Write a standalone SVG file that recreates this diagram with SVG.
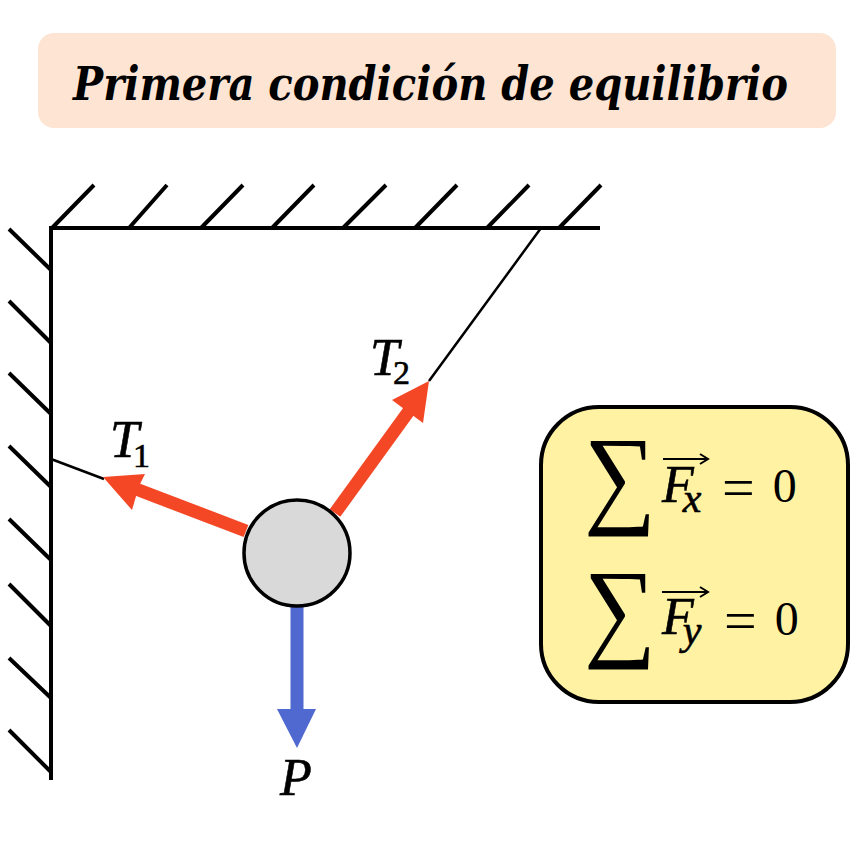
<svg xmlns="http://www.w3.org/2000/svg" width="855" height="857" viewBox="0 0 855 857">
<style>
.h{stroke:#000;stroke-width:4;fill:none}
.t{font-family:"Liberation Serif",serif;font-style:italic;fill:#000;stroke:#000;stroke-width:.6px;font-size:52px}
.s{font-size:34px;font-style:normal}
.u{font-size:42px}
.m{font-family:"Liberation Serif",serif;fill:#000}
.v{stroke:#000;stroke-width:2;fill:none}
</style>
<rect width="855" height="857" fill="#fff"/>
<g id="title"><rect x="38" y="33" width="798" height="95" rx="16" fill="#fde4d3"/>
<text x="73" y="100" font-family="DejaVu Serif Condensed,DejaVu Serif,serif" font-style="italic" font-weight="bold" font-size="46" textLength="715" lengthAdjust="spacingAndGlyphs" fill="#000">Primera condición de equilibrio</text></g>
<g id="walls" class="h">
<path d="M51 780V228H600"/>
<path d="M52 228L94 185M129 228L167 185M201 228L243 185M272 228L314 185M343 228L386 185M415 228L457 185M487 228L529 185M559 228L601 185"/>
<path d="M9 229L51 270M9 301L51 343M9 373L51 414M9 446L51 487M9 519L51 560M9 584L51 626M9 658L51 698M9 730L51 772"/>
</g>
<g id="connectors">
<path d="M51 459L104 479M541 228L429 381" stroke="#000" stroke-width="2.5" fill="none"/>
<path d="M103 477L145 474L139 486L132 510Z" fill="#f44725"/>
<path d="M246 531L136 489" stroke="#f44725" stroke-width="13" fill="none"/>
<path d="M335 513L414 404" stroke="#f44725" stroke-width="13" fill="none"/>
<path d="M429 381L423 423L392 400Z" fill="#f44725"/>
<path d="M297 606V712" stroke="#4f69d0" stroke-width="13" fill="none"/>
<path d="M277 709H316L297 748Z" fill="#4f69d0"/>
</g>
<g id="ball"><circle cx="297" cy="553" r="53" fill="#d9d9d9" stroke="#000" stroke-width="3.5"/></g>
<g id="labels">
<text class="t" x="370" y="375">T<tspan class="s" dx="-6" dy="9">2</tspan></text>
<text class="t" x="110" y="457">T<tspan class="s" dx="-6" dy="10">1</tspan></text>
<text class="t" x="280" y="795">P</text>
</g>
<g id="equations">
<rect x="541" y="407" width="307" height="295" rx="58" fill="#fff3a3" stroke="#000" stroke-width="4"/>
<text class="m" x="584" y="513" font-size="110" textLength="72" lengthAdjust="spacingAndGlyphs">∑</text>
<text class="t" x="662" y="502">F<tspan class="u" dx="-11" dy="10">x</tspan></text>
<path class="v" d="M663 459H707M700 454L708 459L700 464"/>
<text class="m" x="722" y="507" font-size="58">=<tspan dx="18" dy="-5" font-size="48">0</tspan></text>
<text class="m" x="584" y="646" font-size="110" textLength="72" lengthAdjust="spacingAndGlyphs">∑</text>
<text class="t" x="662" y="634">F<tspan class="u" dx="-11" dy="10">y</tspan></text>
<path class="v" d="M662 592H707M700 587L708 592L700 597"/>
<text class="m" x="724" y="640" font-size="58">=<tspan dx="18" dy="-5" font-size="48">0</tspan></text>
</g>
</svg>
